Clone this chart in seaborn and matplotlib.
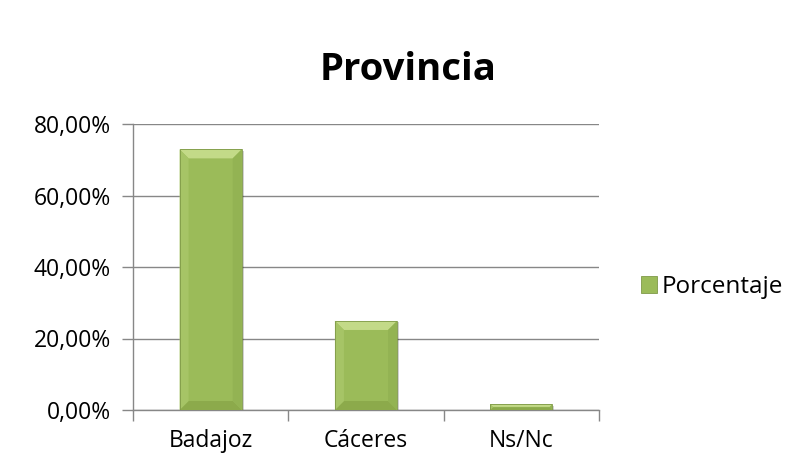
import matplotlib
matplotlib.use("Agg")
import matplotlib.pyplot as plt
import seaborn as sns
import pandas as pd
from matplotlib.patches import Polygon, Rectangle
from matplotlib.ticker import FuncFormatter

categories = ["Badajoz", "Cáceres", "Ns/Nc"]
porcentaje = [72.9, 24.9, 1.6]
series_name = "Porcentaje"
y_ticks = [0, 20, 40, 60, 80]

df = pd.DataFrame({"Provincia": categories, series_name: porcentaje})

sns.set_theme(style="white")
plt.rcParams["font.family"] = ["Open Sans", "DejaVu Sans"]
plt.rcParams["text.color"] = "black"
plt.rcParams["xtick.color"] = "black"
plt.rcParams["ytick.color"] = "black"

fig = plt.figure(figsize=(7.97, 4.75), dpi=100)
ax = fig.add_axes([133 / 797, 1 - 410 / 475, (599 - 133) / 797, (410 - 124) / 475])

green = "#9BBB59"
sns.barplot(data=df, x="Provincia", y=series_name, color=green, width=0.4,
            saturation=1, ax=ax, zorder=3, edgecolor="none")

ax.set_ylim(0, 80)
ax.set_xlim(-0.5, 2.5)
ax.set_yticks(y_ticks)
ax.yaxis.set_major_formatter(FuncFormatter(lambda v, _: f"{v:.2f}%".replace(".", ",")))
ax.set_xlabel("")
ax.set_ylabel("")
ax.grid(axis="y", color="#878787", linewidth=1.0, zorder=0)
for s in ["top", "right"]:
    ax.spines[s].set_visible(False)
for s in ["left", "bottom"]:
    ax.spines[s].set_color("#878787")
    ax.spines[s].set_linewidth(1.0)
ax.set_xticks([-0.5, 0.5, 1.5, 2.5], minor=False)
ax.set_xticklabels(["", "", "", ""])
ax.set_xticks([0, 1, 2], minor=True)
ax.set_xticklabels(categories, minor=True)
ax.tick_params(axis="x", which="major", bottom=True, length=8, width=1, color="#878787")
ax.tick_params(axis="x", which="minor", bottom=False, length=0, labelsize=16.5,
               pad=14, labelcolor="black")
ax.tick_params(axis="y", left=True, length=8, width=1, color="#878787", labelsize=16.5,
               pad=8, labelcolor="black")

# bevel shading on each bar, derived from the bar geometry
px_per_x = (599 - 133) / 3.0
px_per_y = (410 - 124) / 80.0
for bar in list(ax.patches):
    x0, w = bar.get_x(), bar.get_width()
    y0, h = bar.get_y(), bar.get_height()
    x1, y1 = x0 + w, y0 + h
    bpx = min(9, h * px_per_y / 2.2)
    bx = bpx / px_per_x
    by = bpx / px_per_y
    # drop shadow
    ax.add_patch(Rectangle((x0 + 2 / px_per_x, y0), w, h - 1.5 / px_per_y,
                           facecolor="#000000", alpha=0.18, zorder=2.5, lw=0))
    ax.add_patch(Polygon([(x0, y1), (x1, y1), (x1 - bx, y1 - by), (x0 + bx, y1 - by)],
                         facecolor="#C3DA88", zorder=4, lw=0))
    ax.add_patch(Polygon([(x0, y0), (x1, y0), (x1 - bx, y0 + by), (x0 + bx, y0 + by)],
                         facecolor="#8CAA4B", zorder=4, lw=0))
    ax.add_patch(Polygon([(x0, y0), (x0, y1), (x0 + bx, y1 - by), (x0 + bx, y0 + by)],
                         facecolor="#A6C466", zorder=4, lw=0))
    ax.add_patch(Polygon([(x1, y0), (x1, y1), (x1 - bx, y1 - by), (x1 - bx, y0 + by)],
                         facecolor="#93B353", zorder=4, lw=0))
    ax.add_patch(Rectangle((x0, y0), w, h, facecolor="none", edgecolor="#7F9A48",
                           lw=0.6, zorder=5))

fig.text(408 / 797, 1 - 70 / 475, "Provincia", ha="center", va="center",
         fontsize=27.5, fontweight="bold", color="black")

# legend
leg_handle = Rectangle((0, 0), 1, 1, facecolor=green, edgecolor="#7F9A48", lw=0.6)
fig.legend([leg_handle], [series_name], loc="center left",
           bbox_to_anchor=(641 / 797, 1 - 287 / 475), frameon=False,
           fontsize=17.5, handlelength=0.65, handleheight=0.65, handletextpad=0.2,
           borderpad=0, borderaxespad=0)

fig.savefig("out.png", dpi=100, facecolor="white")
